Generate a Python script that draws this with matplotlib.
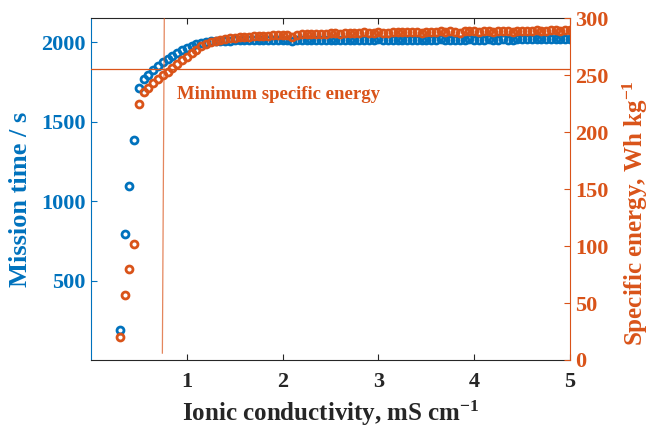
import numpy as np
import matplotlib
matplotlib.use('Agg')
import matplotlib.pyplot as plt

plt.rcParams['font.family'] = ['Liberation Serif', 'DejaVu Serif']
plt.rcParams['font.weight'] = 'bold'
plt.rcParams['mathtext.fontset'] = 'custom'
plt.rcParams['mathtext.rm'] = 'Liberation Serif:bold'
plt.rcParams['mathtext.it'] = 'Liberation Serif:bold'
plt.rcParams['mathtext.bf'] = 'Liberation Serif:bold'

# ---------------- data ----------------
conductivity = [0.30, 0.35, 0.40, 0.45, 0.50, 0.55, 0.60, 0.65, 0.70, 0.75,
                0.80, 0.85, 0.90, 0.95, 1.00, 1.05, 1.10, 1.15, 1.20, 1.25,
                1.30, 1.35, 1.40, 1.45, 1.50, 1.55, 1.60, 1.65, 1.70, 1.75,
                1.80, 1.85, 1.90, 1.95, 2.00, 2.05, 2.10, 2.15, 2.20, 2.25,
                2.30, 2.35, 2.40, 2.45, 2.50, 2.55, 2.60, 2.65, 2.70, 2.75,
                2.80, 2.85, 2.90, 2.95, 3.00, 3.05, 3.10, 3.15, 3.20, 3.25,
                3.30, 3.35, 3.40, 3.45, 3.50, 3.55, 3.60, 3.65, 3.70, 3.75,
                3.80, 3.85, 3.90, 3.95, 4.00, 4.05, 4.10, 4.15, 4.20, 4.25,
                4.30, 4.35, 4.40, 4.45, 4.50, 4.55, 4.60, 4.65, 4.70, 4.75,
                4.80, 4.85, 4.90, 4.95, 5.00]

mission_time = [191, 795, 1097, 1383, 1714, 1767, 1794, 1828, 1852, 1873,
                1893, 1913, 1932, 1950, 1965, 1978, 1990, 1998, 2003, 2006,
                2008, 2009, 2010, 2010, 2011, 2011, 2012, 2012, 2012, 2013,
                2013, 2012, 2013, 2014, 2014, 2012, 2008, 2013, 2015, 2014,
                2015, 2015, 2014, 2015, 2016, 2015, 2014, 2016, 2016, 2015,
                2016, 2017, 2016, 2016, 2018, 2016, 2015, 2016, 2017, 2016,
                2016, 2017, 2016, 2015, 2017, 2016, 2017, 2018, 2016, 2017,
                2016, 2012, 2017, 2018, 2017, 2016, 2017, 2018, 2016, 2017,
                2018, 2017, 2014, 2018, 2019, 2018, 2018, 2019, 2018, 2018,
                2020, 2019, 2018, 2019, 2019]

specific_energy = [20, 57, 80, 102, 225, 235, 239, 243, 246.5, 250,
                   253, 256.5, 260, 263.5, 266.5, 269.5, 272, 276, 277.5, 279,
                   280.5, 281.3, 282, 282.5, 283, 283.3, 283.6, 284, 284.2, 284.5,
                   284.7, 284.5, 285, 285.3, 285.5, 285.2, 284, 285.8, 286.2, 286,
                   286.3, 286.5, 286.2, 286.6, 287, 286.8, 286.5, 287.2, 287.3, 287,
                   287.4, 287.8, 287.3, 287.5, 288.2, 287.6, 287.3, 287.8, 288, 287.7,
                   287.8, 288.3, 288, 287.6, 288.3, 288, 288.4, 288.7, 288.2, 288.5,
                   288.2, 287, 288.5, 288.8, 288.6, 288.3, 288.7, 288.9, 288.4, 288.7,
                   289, 288.8, 288, 289, 289.2, 289, 289.1, 289.4, 289.2, 289.1,
                   289.8, 289.5, 289.2, 289.5, 289.5]

min_energy = 255.5          # horizontal threshold line
min_cond = [0.745, 0.765]   # vertical line, bottom / top
min_cond_y = [6, 300]

blue = '#0072BD'
orange = '#D95319'

fig = plt.figure(figsize=(6.5, 4.28), dpi=100)
ax = fig.add_axes([0.14, 0.159, 0.737, 0.798])
ax2 = ax.twinx()

ax.plot(conductivity, mission_time, 'o', ms=5, mew=2, mfc='none', mec=blue, zorder=3)
ax2.plot(conductivity, specific_energy, 'o', ms=5, mew=2, mfc='none', mec=orange, zorder=3)

ax2.axhline(min_energy, color=orange, lw=0.9)
ax2.plot(min_cond, min_cond_y, color=orange, lw=0.9, alpha=0.7)
ax2.text(0.9, 233, 'Minimum specific energy', color=orange, fontsize=13.5,
         fontweight='bold', va='center', ha='left')

ax.set_xlim(0, 5)
ax.set_ylim(0, 2150)
ax2.set_ylim(0, 300)
ax.set_xticks([1, 2, 3, 4, 5])
ax.set_yticks([500, 1000, 1500, 2000])
ax2.set_yticks([0, 50, 100, 150, 200, 250, 300])

ax.tick_params(axis='x', direction='in', length=4, top=True, labelsize=16,
               colors='#262626', pad=9)
ax.tick_params(axis='y', direction='in', length=4, labelsize=16, colors=blue, pad=4)
ax2.tick_params(axis='y', direction='in', length=4, labelsize=16, colors=orange, pad=3.5)

for s in ['top', 'bottom']:
    ax.spines[s].set_color('#262626')
ax.spines['left'].set_color(blue)
ax.spines['right'].set_visible(False)
ax2.spines['right'].set_color(orange)
for s in ['left', 'top', 'bottom']:
    ax2.spines[s].set_visible(False)
for a in (ax, ax2):
    for s in a.spines.values():
        s.set_linewidth(0.8)

ax.set_xlabel('Ionic conductivity, mS cm$^{-1}$', fontsize=18, fontweight='bold',
              color='#262626', va='baseline')
ax.xaxis.set_label_coords(0.5, -0.179)
ax.set_ylabel('Mission time / s', fontsize=19, fontweight='bold', color=blue, va='center')
ax.yaxis.set_label_coords(-0.148, 0.47)
ax2.set_ylabel('Specific energy, Wh kg$^{-1}$', fontsize=18, fontweight='bold',
               color=orange, va='center')
ax2.yaxis.set_label_coords(1.136, 0.43)

fig.savefig('out.png', dpi=100)
